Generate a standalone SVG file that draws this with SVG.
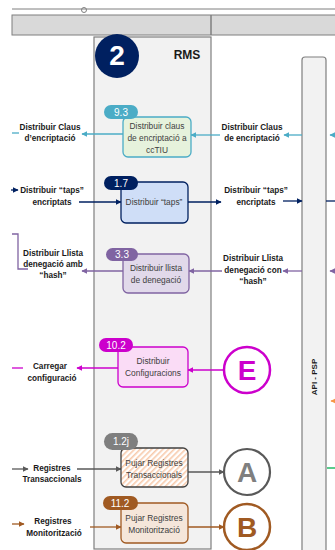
<svg xmlns="http://www.w3.org/2000/svg" width="335" height="550" viewBox="0 0 335 550">
<style>
.lbl{font-family:"Liberation Sans",Arial,sans-serif;font-size:8.2px;font-weight:bold;fill:#1a1a1a;text-anchor:middle}
.bx{font-family:"Liberation Sans",Arial,sans-serif;font-size:8.4px;fill:#404040;text-anchor:middle}
.bdg{font-family:"Liberation Sans",Arial,sans-serif;font-size:10px;fill:#ffffff;text-anchor:middle}
.big{font-family:"Liberation Sans",Arial,sans-serif;font-size:28px;font-weight:bold;text-anchor:middle}
.ln{fill:none;stroke-width:1.3}
</style>
<defs>
<marker id="mc" viewBox="0 0 10 10" refX="9" refY="5" markerWidth="6" markerHeight="6" markerUnits="userSpaceOnUse" orient="auto"><path d="M0,0 L10,5 L0,10 z" fill="#4bacc6"/></marker>
<marker id="mn" viewBox="0 0 10 10" refX="9" refY="5" markerWidth="6" markerHeight="6" markerUnits="userSpaceOnUse" orient="auto"><path d="M0,0 L10,5 L0,10 z" fill="#002060"/></marker>
<marker id="mp" viewBox="0 0 10 10" refX="9" refY="5" markerWidth="6" markerHeight="6" markerUnits="userSpaceOnUse" orient="auto"><path d="M0,0 L10,5 L0,10 z" fill="#8064a2"/></marker>
<marker id="mm" viewBox="0 0 10 10" refX="9" refY="5" markerWidth="6" markerHeight="6" markerUnits="userSpaceOnUse" orient="auto"><path d="M0,0 L10,5 L0,10 z" fill="#cc00cc"/></marker>
<marker id="mg" viewBox="0 0 10 10" refX="9" refY="5" markerWidth="6" markerHeight="6" markerUnits="userSpaceOnUse" orient="auto"><path d="M0,0 L10,5 L0,10 z" fill="#595959"/></marker>
<marker id="mb" viewBox="0 0 10 10" refX="9" refY="5" markerWidth="6" markerHeight="6" markerUnits="userSpaceOnUse" orient="auto"><path d="M0,0 L10,5 L0,10 z" fill="#a05a22"/></marker>
<marker id="mo" viewBox="0 0 10 10" refX="9" refY="5" markerWidth="6" markerHeight="6" markerUnits="userSpaceOnUse" orient="auto"><path d="M0,0 L10,5 L0,10 z" fill="#f79646"/></marker>
<pattern id="hatch" patternUnits="userSpaceOnUse" width="4" height="4" patternTransform="rotate(45)"><rect width="4" height="4" fill="#ffffff"/><rect width="1.6" height="4" fill="#f8cbad"/></pattern>
</defs>

<g id="frame">
<circle cx="84" cy="10" r="2.5" fill="#ffffff" stroke="#7f7f7f" stroke-width="1"/>
<line x1="12" y1="9" x2="335" y2="9" stroke="#7f7f7f" stroke-width="1"/>
<rect x="12" y="15" width="330" height="20" fill="#d9d9d9" stroke="#7f7f7f" stroke-width="1"/>
<line x1="211" y1="15" x2="211" y2="35" stroke="#7f7f7f" stroke-width="1.5"/>
</g>

<g id="lane-rms">
<rect x="94" y="37" width="117" height="512" fill="#f2f2f2" stroke="#7f7f7f" stroke-width="1.2"/>
<circle cx="117" cy="56" r="22" fill="#002060"/>
<text x="117" y="65" class="big" fill="#ffffff" font-size="25">2</text>
<text x="187" y="59" font-family="Liberation Sans, Arial, sans-serif" font-size="12" font-weight="bold" fill="#1a1a1a" text-anchor="middle">RMS</text>
</g>

<g id="lane-api">
<rect x="302" y="57" width="24" height="510" rx="3" fill="#f2f2f2" stroke="#7f7f7f" stroke-width="1.2"/>
<text transform="translate(317,377) rotate(-90)" font-family="Liberation Sans, Arial, sans-serif" font-size="8" font-weight="bold" fill="#1a1a1a" text-anchor="middle">API - PSP</text>
</g>

<g id="connectors">
<line class="ln" stroke="#4bacc6" x1="123" y1="134" x2="82" y2="134" marker-end="url(#mc)"/>
<line class="ln" stroke="#4bacc6" x1="12" y1="133" x2="19" y2="133"/>
<line class="ln" stroke="#4bacc6" x1="220" y1="135" x2="191" y2="135" marker-end="url(#mc)"/>
<line class="ln" stroke="#4bacc6" x1="302" y1="135" x2="284" y2="135" marker-end="url(#mc)"/>
<line class="ln" stroke="#4bacc6" x1="336" y1="135" x2="330" y2="135" marker-end="url(#mc)"/>
<line class="ln" stroke="#002060" x1="11" y1="190" x2="18" y2="190" marker-end="url(#mn)"/>
<line class="ln" stroke="#002060" x1="79" y1="202" x2="121" y2="202" marker-end="url(#mn)"/>
<line class="ln" stroke="#002060" x1="188" y1="202" x2="221" y2="202" marker-end="url(#mn)"/>
<line class="ln" stroke="#002060" x1="283" y1="201" x2="302" y2="201" marker-end="url(#mn)"/>
<line class="ln" stroke="#002060" x1="326" y1="201" x2="335" y2="201"/>
<polyline class="ln" stroke="#8064a2" points="12,234 18,234 18,269 28,269"/>
<line class="ln" stroke="#8064a2" x1="123" y1="271" x2="82" y2="271" marker-end="url(#mp)"/>
<line class="ln" stroke="#8064a2" x1="222" y1="271" x2="189" y2="271" marker-end="url(#mp)"/>
<line class="ln" stroke="#8064a2" x1="302" y1="271" x2="283" y2="271" marker-end="url(#mp)"/>
<line class="ln" stroke="#8064a2" x1="336" y1="271" x2="330" y2="271" marker-end="url(#mp)"/>
<line class="ln" stroke="#cc00cc" x1="12" y1="368" x2="23" y2="368"/>
<line class="ln" stroke="#cc00cc" x1="118" y1="368" x2="77" y2="368" marker-end="url(#mm)"/>
<line class="ln" stroke="#cc00cc" x1="224" y1="370" x2="188" y2="370" marker-end="url(#mm)"/>
<line class="ln" stroke="#f79646" x1="337" y1="401" x2="331" y2="401" marker-end="url(#mo)"/>
<line class="ln" stroke="#595959" x1="12" y1="469" x2="28" y2="469" marker-end="url(#mg)"/>
<line class="ln" stroke="#595959" x1="77" y1="469" x2="121" y2="469" marker-end="url(#mg)"/>
<line class="ln" stroke="#595959" x1="188" y1="472" x2="224" y2="472" marker-end="url(#mg)"/>
<line class="ln" stroke="#00b050" x1="327" y1="468" x2="335" y2="468"/>
<line class="ln" stroke="#a05a22" x1="12" y1="524" x2="24" y2="524" marker-end="url(#mb)"/>
<line class="ln" stroke="#a05a22" x1="90" y1="527" x2="121" y2="527" marker-end="url(#mb)"/>
<line class="ln" stroke="#a05a22" x1="188" y1="527" x2="224" y2="527" marker-end="url(#mb)"/>
</g>

<g id="labels">
<text class="lbl" x="50" y="130">Distribuir Claus</text>
<text class="lbl" x="50" y="141">d’encriptació</text>
<text class="lbl" x="252" y="130">Distribuir Claus</text>
<text class="lbl" x="252" y="141">de encriptació</text>
<text class="lbl" x="52" y="193">Distribuir “taps”</text>
<text class="lbl" x="52" y="205">encriptats</text>
<text class="lbl" x="256" y="193">Distribuir “taps”</text>
<text class="lbl" x="256" y="205">encriptats</text>
<text class="lbl" x="53" y="256">Distribuir Llista</text>
<text class="lbl" x="53" y="267">denegació amb</text>
<text class="lbl" x="53" y="278">“hash”</text>
<text class="lbl" x="253" y="261">Distribuir Llista</text>
<text class="lbl" x="253" y="273">denegació con</text>
<text class="lbl" x="253" y="284">“hash”</text>
<text class="lbl" x="50" y="369">Carregar</text>
<text class="lbl" x="52" y="381">configuració</text>
<text class="lbl" x="52" y="471">Registres</text>
<text class="lbl" x="52" y="482">Transaccionals</text>
<text class="lbl" x="53" y="524">Registres</text>
<text class="lbl" x="54" y="536">Monitorització</text>
</g>

<g id="n-9-3">
<rect x="123" y="117" width="68" height="40" rx="5" fill="#e6f2dc" stroke="#4bacc6" stroke-width="1.3"/>
<rect x="104" y="105" width="34" height="14" rx="7" fill="#4bacc6"/>
<text class="bdg" x="121" y="116">9.3</text>
<text class="bx" x="157" y="129">Distribuir claus</text>
<text class="bx" x="157" y="141">de encriptació a</text>
<text class="bx" x="157" y="153">ccTIU</text>
</g>

<g id="n-1-7">
<rect x="121" y="182" width="67" height="41" rx="5" fill="#cfdef7" stroke="#002060" stroke-width="1.3"/>
<rect x="104" y="176" width="34" height="14" rx="7" fill="#002060"/>
<text class="bdg" x="121" y="187">1.7</text>
<text class="bx" x="154" y="205">Distribuir “taps”</text>
</g>

<g id="n-3-3">
<rect x="123" y="254" width="66" height="39" rx="5" fill="#e1d9ea" stroke="#8064a2" stroke-width="1.3"/>
<rect x="106" y="248" width="32" height="13" rx="6.5" fill="#8064a2"/>
<text class="bdg" x="122" y="258">3.3</text>
<text class="bx" x="156" y="271">Distribuir llista</text>
<text class="bx" x="156" y="283">de denegació</text>
</g>

<g id="n-10-2">
<rect x="118" y="347" width="70" height="40" rx="5" fill="#fadcf6" stroke="#cc00cc" stroke-width="1.3"/>
<rect x="99" y="338" width="34" height="14" rx="7" fill="#cc00cc"/>
<text class="bdg" x="116" y="349">10.2</text>
<text class="bx" x="153" y="364">Distribuir</text>
<text class="bx" x="153" y="376">Configuracions</text>
</g>

<g id="n-1-2j">
<rect x="121" y="448" width="67" height="39" rx="5" fill="url(#hatch)" stroke="#404040" stroke-width="1.3"/>
<rect x="104" y="433" width="34" height="17" rx="8.5" fill="#7f7f7f"/>
<text class="bdg" x="121" y="445">1.2j</text>
<text class="bx" x="154" y="466">Pujar Registres</text>
<text class="bx" x="154" y="478">Transaccionals</text>
</g>

<g id="n-11-2">
<rect x="121" y="503" width="67" height="40" rx="5" fill="#f5e6da" stroke="#a05a22" stroke-width="1.3"/>
<rect x="103" y="496" width="35" height="14" rx="7" fill="#a05a22"/>
<text class="bdg" x="120" y="507">11.2</text>
<text class="bx" x="154" y="521">Pujar Registres</text>
<text class="bx" x="154" y="533">Monitorització</text>
</g>

<g id="c-E">
<circle cx="247" cy="370" r="23" fill="#ffffff" stroke="#cc00cc" stroke-width="2.5"/>
<text class="big" x="247" y="380" fill="#cc00cc">E</text>
</g>
<g id="c-A">
<circle cx="247" cy="472" r="23" fill="#ffffff" stroke="#595959" stroke-width="2.2"/>
<text class="big" x="247" y="482" fill="#7f7f7f">A</text>
</g>
<g id="c-B">
<circle cx="247" cy="527" r="23" fill="#ffffff" stroke="#a05a22" stroke-width="2.5"/>
<text class="big" x="247" y="537" fill="#a05a22">B</text>
</g>
</svg>
